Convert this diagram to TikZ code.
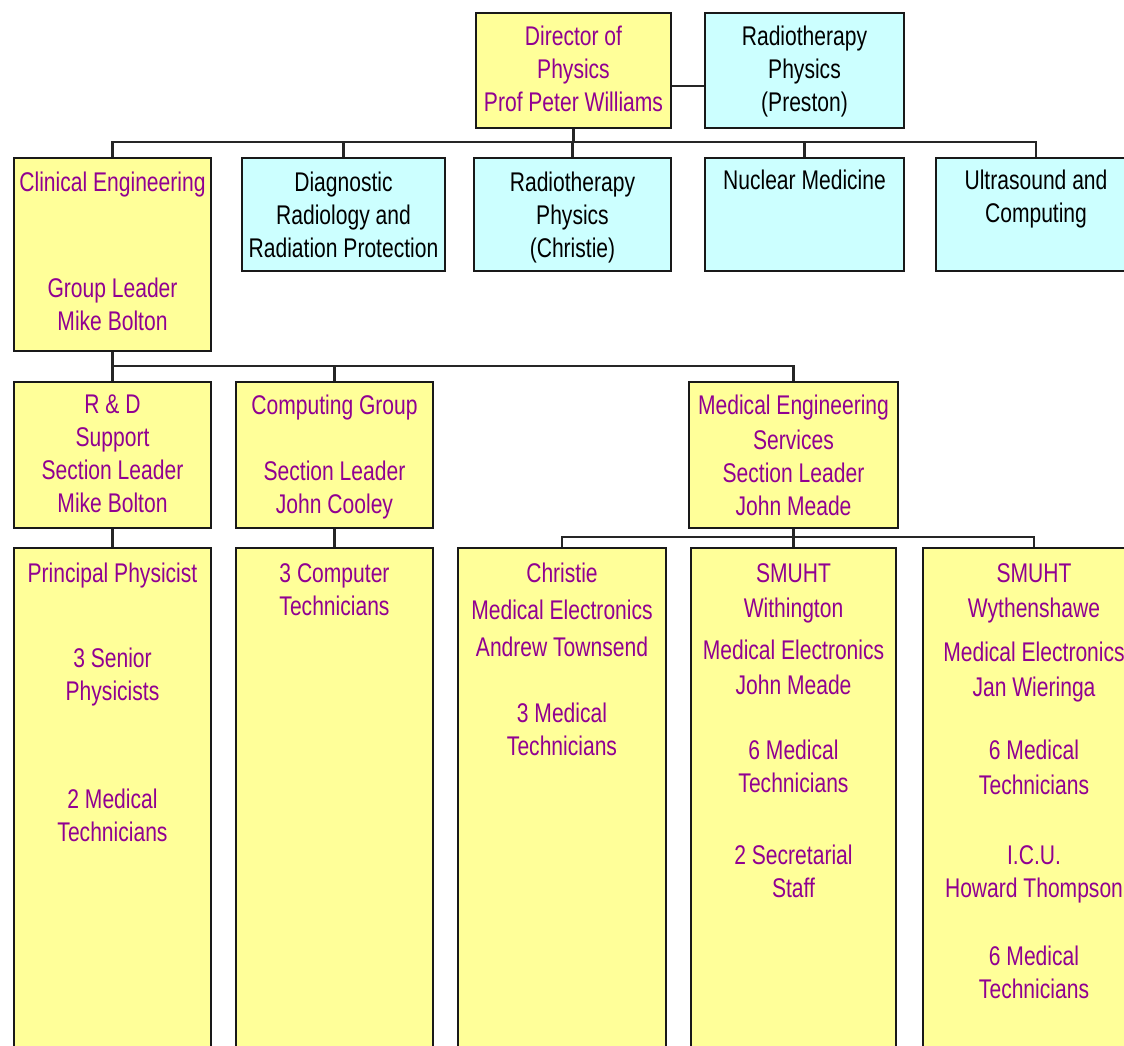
\documentclass[tikz,border=0pt]{standalone}
\usepackage{fontspec}
\setmainfont{Liberation Sans}[FakeStretch=0.78]
\definecolor{boxyellow}{RGB}{255,255,153}
\definecolor{boxcyan}{RGB}{204,255,255}
\definecolor{deptpurple}{RGB}{145,0,145}
\begin{document}
\begin{tikzpicture}[x=1pt,y=-1pt,
  frame/.style={draw=black!90, line width=2pt, anchor=north west, inner sep=0pt},
  ybox/.style={frame, fill=boxyellow},
  cbox/.style={frame, fill=boxcyan},
  lbl/.style={anchor=north, inner sep=0pt, align=center,
    font=\fontsize{27}{33}\selectfont},
  ptxt/.style={lbl, text=deptpurple},
  ktxt/.style={lbl, text=black},
  wire/.style={draw=black!85, line width=2.4pt}]
\useasboundingbox (0,0) rectangle (1124,1046);
\clip (0,0) rectangle (1124,1046);

% ---- top level ----
\node[ybox, minimum width=195pt, minimum height=115pt] (dir)  at (475,12) {};
\node[cbox, minimum width=199pt, minimum height=115pt] (pres) at (704,12) {};

% ---- departments ----
\node[ybox, minimum width=197pt, minimum height=193pt] (clin)  at (13,157)  {};
\node[cbox, minimum width=203pt, minimum height=113pt] (diag)  at (241,157) {};
\node[cbox, minimum width=197pt, minimum height=113pt] (rchr)  at (473,157) {};
\node[cbox, minimum width=199pt, minimum height=113pt] (nuc)   at (704,157) {};
\node[cbox, minimum width=200pt, minimum height=113pt] (ultra) at (935,157) {};

% ---- clinical engineering sections ----
\node[ybox, minimum width=197pt, minimum height=146pt] (rd)   at (13,381)  {};
\node[ybox, minimum width=197pt, minimum height=146pt] (comp) at (235,381) {};
\node[ybox, minimum width=209pt, minimum height=146pt] (mes)  at (688,381) {};

% ---- staff columns ----
\node[ybox, minimum width=197pt, minimum height=520pt] (prin)  at (13,547)  {};
\node[ybox, minimum width=197pt, minimum height=520pt] (ctech) at (235,547) {};
\node[ybox, minimum width=208pt, minimum height=520pt] (chr)   at (457,547) {};
\node[ybox, minimum width=205pt, minimum height=520pt] (with)  at (690,547) {};
\node[ybox, minimum width=222pt, minimum height=520pt] (wyth)  at (922,547) {};

% ---- connectors ----
\coordinate (bus1) at (572,142);
\coordinate (bus2) at (112,366);
\coordinate (bus3) at (792,537);
\draw[wire] ([yshift=-15.5pt]dir.east) -- ([yshift=-15.5pt]pres.west);
\draw[wire] (dir.south) -- (dir.south |- bus1);
\draw[wire] (clin.north) |- (ultra.north |- bus1) -- (ultra.north);
\draw[wire] (diag.north) -- (diag.north |- bus1);
\draw[wire] (rchr.north) -- (rchr.north |- bus1);
\draw[wire] (nuc.north) -- (nuc.north |- bus1);

\draw[wire] (clin.south) -- (rd.north);
\draw[wire] (clin.south |- bus2) -| (mes.north);
\draw[wire] (comp.north) -- (comp.north |- bus2);

\draw[wire] (rd.south) -- (prin.north);
\draw[wire] (comp.south) -- (ctech.north);

\draw[wire] (mes.south) -- (mes.south |- bus3);
\draw[wire] (chr.north) |- (wyth.north |- bus3) -- (wyth.north);
\draw[wire] (with.north) -- (with.north |- bus3);

% ---- labels ----
\node[ptxt] (dirT)  at ([yshift=-14pt]dir.north)  {Director of\\Physics\\Prof Peter Williams};
\node[ktxt] (presT) at ([yshift=-14pt]pres.north) {Radiotherapy\\Physics\\(Preston)};

\node[ptxt] (clinT)  at ([yshift=-15pt]clin.north)  {Clinical Engineering\\[73pt]Group Leader\\Mike Bolton};
\node[ktxt] (diagT)  at ([yshift=-15pt]diag.north)  {Diagnostic\\Radiology and\\Radiation Protection};
\node[ktxt] (rchrT)  at ([yshift=-15pt]rchr.north)  {Radiotherapy\\Physics\\(Christie)};
\node[ktxt] (nucT)   at ([yshift=-13pt]nuc.north)   {Nuclear Medicine};
\node[ktxt] (ultraT) at ([yshift=-13pt]ultra.north) {Ultrasound and\\Computing};

\node[ptxt] (rdT)   at ([yshift=-14pt]rd.north)   {R \& D\\Support\\Section Leader\\Mike Bolton};
\node[ptxt] (compT) at ([yshift=-14pt]comp.north) {Computing Group\\[33pt]Section Leader\\John Cooley};
\node[ptxt] (mesT)  at ([yshift=-14pt]mes.north)  {Medical Engineering\\[2pt]Services\\Section Leader\\John Meade};

\node[ptxt] (prinT)  at ([yshift=-16pt]prin.north)  {Principal Physicist\\[52pt]3 Senior\\Physicists\\[75pt]2 Medical\\Technicians};
\node[ptxt] (ctechT) at ([yshift=-16pt]ctech.north) {3 Computer\\Technicians};
\node[ptxt] (chrT)   at ([yshift=-16pt]chr.north)   {Christie\\[4pt]Medical Electronics\\[4pt]Andrew Townsend\\[33pt]3 Medical\\Technicians};
\node[ptxt] (withT)  at ([yshift=-16pt]with.north)  {SMUHT\\[2pt]Withington\\[9pt]Medical Electronics\\[2pt]John Meade\\[32pt]6 Medical\\Technicians\\[39pt]2 Secretarial\\Staff};
\node[ptxt] (wythT)  at ([yshift=-16pt]wyth.north)  {SMUHT\\[2pt]Wythenshawe\\[11pt]Medical Electronics\\[2pt]Jan Wieringa\\[30pt]6 Medical\\[2pt]Technicians\\[37pt]I.C.U.\\Howard Thompson\\[35pt]6 Medical\\Technicians};
\end{tikzpicture}
\end{document}
